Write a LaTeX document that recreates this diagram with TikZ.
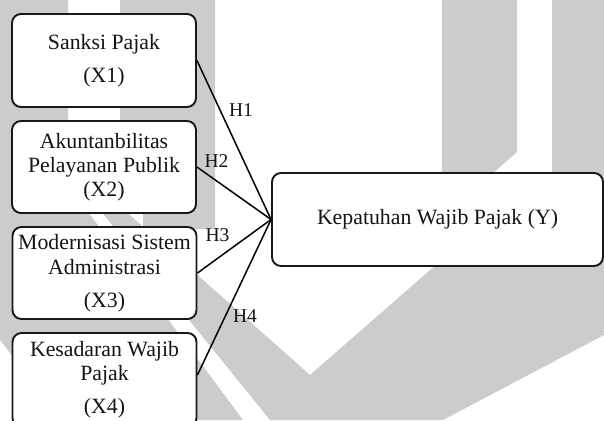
\documentclass[tikz,border=0pt]{standalone}
\usepackage{fontspec}
\setmainfont{Liberation Serif}
\begin{document}
\begin{tikzpicture}[x=1pt,y=-1pt,
  wm/.style={fill=black!20,draw=none},
  varbox/.style={draw=black!90,line width=1.9pt,rounded corners=9pt,fill=white,inner sep=0pt,align=center,
    font=\fontsize{21.8}{24}\selectfont,text=black!92,minimum width=184pt},
  link/.style={draw=black,line width=1.5pt},
  hyp/.style={font=\fontsize{19.5}{22}\selectfont,text=black!92,inner sep=0pt}]
\useasboundingbox (0,0) rectangle (604,420);
\fill[white] (0,0) rectangle (604,420);
% watermark
\fill[wm] (0,0) -- (68,0) -- (68,185) -- (243,420) -- (62,420) -- (0,340) -- cycle;
\fill[wm] (120,0) -- (215,0) -- (215,229) -- (143,229) -- (143,210) -- (120,190) -- cycle;
\fill[wm] (92,200) -- (113,200) -- (310,375) -- (437,264) -- (470,230) -- (604,230) -- (604,335) -- (443,420) -- (270,420) -- cycle;
\fill[wm] (442,0) -- (517,0) -- (517,152) -- (442,218) -- cycle;
\fill[wm] (552,0) -- (604,0) -- (604,240) -- (552,240) -- cycle;
% boxes
\node[varbox,minimum height=93pt] (x1) at (104,60.5) {Sanksi Pajak\\[9pt](X1)};
\node[varbox,minimum height=92pt] (x2) at (104,167) {Akuntanbilitas\\Pelayanan Publik\\(X2)};
\node[varbox,minimum height=92pt] (x3) at (104.5,273) {Modernisasi Sistem\\[1pt]Administrasi\\[9pt](X3)};
\node[varbox,minimum height=94pt] (x4) at (104.5,380) {Kesadaran Wajib\\Pajak\\[9pt](X4)};
\node[varbox,minimum width=331pt,minimum height=93pt] (y) at (437.5,219.5) {Kepatuhan Wajib Pajak (Y)};
% connectors
\draw[link] (x1.east) -- (y.west);
\draw[link] (x2.east) -- (y.west);
\draw[link] (x3.east) -- (y.west);
\draw[link] ([yshift=5pt]x4.east) -- (y.west);
% labels
\node[hyp] (h1) at (241,110) {H1};
\node[hyp] (h2) at (216.5,161.5) {H2};
\node[hyp] (h3) at (217.5,235.5) {H3};
\node[hyp] (h4) at (245,316) {H4};
\end{tikzpicture}
\end{document}
